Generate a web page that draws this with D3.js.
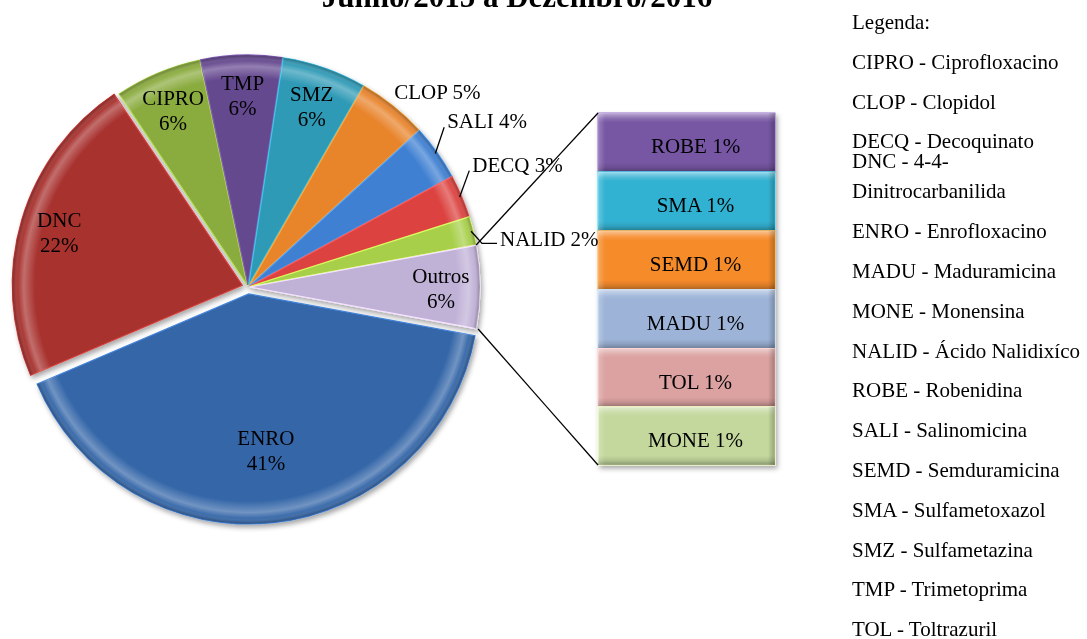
<!DOCTYPE html>
<html>
<head>
	<meta charset="UTF-8" />
	<title>pie of bar</title>
	<script src="https://d3js.org/d3.v7.min.js"></script>
	<style type="text/css">
		body{margin:0; background:#fff;}
		text{font-family:"Liberation Serif","Times New Roman",serif; fill:#000;}
	</style>
</head>
<body>
	<svg id="chart"></svg>

	<script type="text/javascript">
	// data, pie slices clockwise starting after the "Outros" wedge
	var pieNames = ["ENRO", "DNC", "CIPRO", "TMP", "SMZ", "CLOP", "SALI", "DECQ", "NALID"]
	var pieValues = [40.7, 22.0, 6.1, 5.7, 5.9, 4.9, 3.9, 3.0, 2.0]
	var pieColors = ["#3466a8", "#a7302d", "#8aab3e", "#65488f", "#2f9ab6", "#e8842c", "#3f80d2", "#dc4340", "#a7cf49"]

	// the "Outros" slice and the bar that splits it (top to bottom)
	var otherName = "Outros"
	var otherColor = "#c0b1d7"
	var barNames = ["ROBE", "SMA", "SEMD", "MADU", "TOL", "MONE"]
	var barValues = [0.97, 0.97, 0.97, 0.97, 0.96, 0.96]
	var barColors = ["#7757a4", "#33b2d2", "#f68b2c", "#9db4d8", "#dba2a1", "#c4d89e"]

	var title = "Junho/2015 a Dezembro/2016"
	var legendTitle = "Legenda:"
	var legendItems = [
		"CIPRO - Ciprofloxacino",
		"CLOP - Clopidol",
		"DECQ - Decoquinato",
		["DNC - 4-4-", "Dinitrocarbanilida"],
		"ENRO - Enrofloxacino",
		"MADU - Maduramicina",
		"MONE - Monensina",
		"NALID - Ácido Nalidixíco",
		"ROBE - Robenidina",
		"SALI - Salinomicina",
		"SEMD - Semduramicina",
		"SMA - Sulfametoxazol",
		"SMZ - Sulfametazina",
		"TMP - Trimetoprima",
		"TOL - Toltrazuril"
	]

	// init window
	var w = 1087
	var h = 639
	var cx = 248, cy = 287, r = 230
	var bar = {x0: 598, x1: 775, top: 113, bottom: 465}
	var fontSize = 21

	var svg = d3.select("#chart")
		.attr("width", w)
		.attr("height", h)

	var total = d3.sum(pieValues) + d3.sum(barValues)
	var pct = v => Math.round(v / total * 100) + "%"

	// defs: shadow + bevel gradients
	var defs = svg.append("defs")
	var shadow = defs.append("filter").attr("id", "shadow")
		.attr("x", "-20%").attr("y", "-20%").attr("width", "140%").attr("height", "140%")
	shadow.append("feDropShadow")
		.attr("dx", 2).attr("dy", 3).attr("stdDeviation", 2.5)
		.attr("flood-color", "#000").attr("flood-opacity", 0.35)

	var rim = defs.append("radialGradient").attr("id", "rim")
		.attr("gradientUnits", "userSpaceOnUse")
		.attr("cx", 0).attr("cy", 0).attr("r", r)
	;[[0, "#fff", 0], [0.9, "#fff", 0], [0.95, "#fff", 0.3], [0.975, "#fff", 0.05], [1, "#000", 0.3]]
		.forEach(s => rim.append("stop").attr("offset", s[0]).attr("stop-color", s[1]).attr("stop-opacity", s[2]))

	var barV = defs.append("linearGradient").attr("id", "barV")
		.attr("x1", 0).attr("y1", 0).attr("x2", 0).attr("y2", 1)
	;[[0, "#fff", 0.5], [0.1, "#fff", 0.12], [0.16, "#fff", 0], [0.84, "#000", 0], [0.92, "#000", 0.1], [1, "#000", 0.3]]
		.forEach(s => barV.append("stop").attr("offset", s[0]).attr("stop-color", s[1]).attr("stop-opacity", s[2]))
	var barH = defs.append("linearGradient").attr("id", "barH")
		.attr("x1", 0).attr("y1", 0).attr("x2", 1).attr("y2", 0)
	;[[0, "#fff", 0.25], [0.04, "#fff", 0], [0.96, "#000", 0], [1, "#000", 0.25]]
		.forEach(s => barH.append("stop").attr("offset", s[0]).attr("stop-color", s[1]).attr("stop-opacity", s[2]))

	// pie, rotated so "Outros" sits at 3 o'clock
	var slices = pieNames.map((n, i) => ({name: n, value: pieValues[i], color: pieColors[i]}))
	slices.push({name: otherName, value: d3.sum(barValues), color: otherColor})
	var otherFrac = d3.sum(barValues) / total
	var start = Math.PI / 2 + otherFrac * Math.PI
	var pie = d3.pie().sort(null).value(d => d.value)
		.startAngle(start).endAngle(start + 2 * Math.PI)
	var arcs = pie(slices)
	var arc = d3.arc().innerRadius(0).outerRadius(r)

	var explode = {ENRO: 7, DNC: 6}
	var mid = d => (d.startAngle + d.endAngle) / 2
	var off = d => explode[d.data.name] || 2
	var polar = (a, rad) => [cx + Math.sin(a) * rad, cy - Math.cos(a) * rad]

	var pieG = svg.append("g").attr("filter", "url(#shadow)")
	var sliceG = pieG.selectAll(".slice")
		.data(arcs)
		.enter()
		.append("g")
		.attr("class", "slice")
		.attr("transform", d => {
			var p = polar(mid(d), off(d))
			return "translate(" + p[0] + "," + p[1] + ")"
		})
	sliceG.append("path")
		.attr("d", arc)
		.attr("fill", d => d.data.color)
		.attr("stroke", d => d3.color(d.data.color).brighter(0.7))
		.attr("stroke-width", 1.2)
	sliceG.append("path")
		.attr("d", arc)
		.attr("fill", "url(#rim)")

	// bar of "Outros"
	var yScale = d3.scaleLinear().domain([0, d3.sum(barValues)]).range([bar.top, bar.bottom])
	var cum = [0].concat(Array.from(d3.cumsum(barValues)))
	var segs = barNames.map((n, i) => ({name: n, value: barValues[i], color: barColors[i], y0: cum[i], y1: cum[i + 1]}))

	var barG = svg.append("g").attr("filter", "url(#shadow)")
	var segG = barG.selectAll(".seg")
		.data(segs)
		.enter()
		.append("g")
		.attr("class", "seg")
	segG.append("rect")
		.attr("x", bar.x0)
		.attr("y", d => yScale(d.y0))
		.attr("width", bar.x1 - bar.x0)
		.attr("height", d => yScale(d.y1) - yScale(d.y0))
		.attr("fill", d => d.color)
		.attr("stroke", d => d3.color(d.color).brighter(0.6))
		.attr("stroke-width", 1)
	;["url(#barV)", "url(#barH)"].forEach(g => {
		segG.append("rect")
			.attr("x", bar.x0)
			.attr("y", d => yScale(d.y0))
			.attr("width", bar.x1 - bar.x0)
			.attr("height", d => yScale(d.y1) - yScale(d.y0))
			.attr("fill", g)
	})
	svg.selectAll(".segLabel")
		.data(segs)
		.enter()
		.append("text")
		.attr("class", "segLabel")
		.attr("x", (bar.x0 + bar.x1) / 2 + 9)
		.attr("y", d => (yScale(d.y0) + yScale(d.y1)) / 2 + 4)
		.attr("text-anchor", "middle")
		.attr("dominant-baseline", "central")
		.style("font-size", fontSize + "px")
		.text(d => d.name + " " + pct(d.value))

	// connector lines from "Outros" to the bar
	var other = arcs[arcs.length - 1]
	var pTop = polar(other.startAngle, r + off(other))
	var pBot = polar(other.endAngle, r + off(other))
	svg.append("line")
		.attr("x1", pTop[0]).attr("y1", pTop[1]).attr("x2", bar.x0).attr("y2", bar.top)
		.attr("stroke", "#000").attr("stroke-width", 1.3)
	svg.append("line")
		.attr("x1", pBot[0] + 2).attr("y1", pBot[1]).attr("x2", bar.x0).attr("y2", bar.bottom)
		.attr("stroke", "#000").attr("stroke-width", 1.3)

	// labels inside the big slices
	var inside = ["ENRO", "DNC", "CIPRO", "TMP", "SMZ", otherName]
	arcs.filter(d => inside.includes(d.data.name)).forEach(d => {
		var k = d.data.value / total > 0.3 ? 0.68 : 0.83
		var p = polar(mid(d), r * k + off(d))
		var t = svg.append("text")
			.attr("x", p[0]).attr("y", p[1])
			.attr("text-anchor", "middle")
			.style("font-size", fontSize + "px")
		t.append("tspan").attr("x", p[0]).attr("dy", "-0.2em").text(d.data.name)
		t.append("tspan").attr("x", p[0]).attr("dy", "1.2em").text(pct(d.data.value))
	})

	// labels outside the small slices (angle shift, radius factor, leader, tail)
	var outside = {
		CLOP: {da: -1, k: 1.04, leader: false, tail: 0},
		SALI: {da: -3.7, k: 1.1, leader: true, tail: 0},
		DECQ: {da: -4.7, k: 1.087, leader: true, tail: 0},
		NALID: {da: 3.5, k: 1.035, leader: true, tail: 15}
	}
	arcs.filter(d => outside[d.data.name]).forEach(d => {
		var o = outside[d.data.name]
		var e = polar(mid(d) + o.da * Math.PI / 180, r * o.k)
		if (o.leader) {
			var s = polar(mid(d), r + off(d) - 2)
			svg.append("path")
				.attr("d", "M" + s + "L" + e + "h" + o.tail)
				.attr("fill", "none").attr("stroke", "#000").attr("stroke-width", 1.3)
		}
		svg.append("text")
			.attr("x", e[0] + o.tail + (o.leader ? 3 : 0))
			.attr("y", e[1] - (o.tail ? 4 : 6))
			.attr("dominant-baseline", "central")
			.style("font-size", fontSize + "px")
			.text(d.data.name + " " + pct(d.data.value))
	})

	// title (cut by the top edge)
	svg.append("text")
		.attr("x", 517).attr("y", 7)
		.attr("text-anchor", "middle")
		.style("font-size", "31px")
		.style("font-weight", "bold")
		.text(title)

	// legend
	var lx = 852, ly = 22, step = 39.8
	svg.append("text").attr("x", lx).attr("y", ly)
		.attr("dominant-baseline", "central").style("font-size", fontSize + "px")
		.text(legendTitle)
	legendItems.forEach(item => {
		var lines = Array.isArray(item) ? item : [item]
		ly += lines.length > 1 ? 20 : step
		lines.forEach((l, j) => {
			svg.append("text").attr("x", lx).attr("y", ly + j * 30)
				.attr("dominant-baseline", "central").style("font-size", fontSize + "px")
				.text(l)
		})
		ly += (lines.length - 1) * 30
	})
	</script>
</body>
</html>
